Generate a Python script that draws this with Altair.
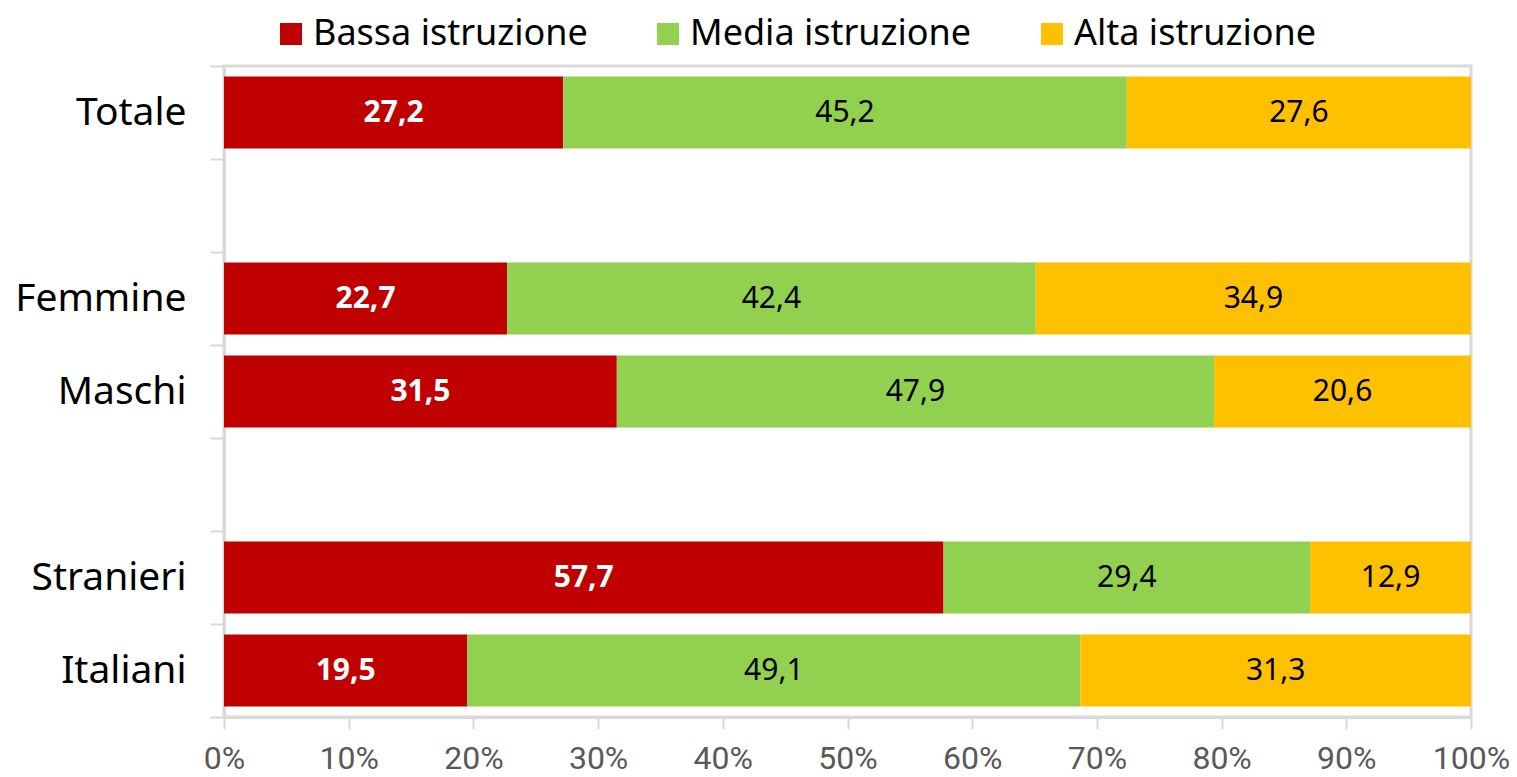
import altair as alt
import pandas as pd

categories = ["Totale", "Femmine", "Maschi", "Stranieri", "Italiani"]
levels = ["Bassa istruzione", "Media istruzione", "Alta istruzione"]
bassa = [27.2, 22.7, 31.5, 57.7, 19.5]
media = [45.2, 42.4, 47.9, 29.4, 49.1]
alta = [27.6, 34.9, 20.6, 12.9, 31.3]
colors = ["#C00000", "#92D050", "#FFC000"]
y_domain = ["Totale", " ", "Femmine", "Maschi", "  ", "Stranieri", "Italiani"]
x_ticks = [0, 0.1, 0.2, 0.3, 0.4, 0.5, 0.6, 0.7, 0.8, 0.9, 1.0]

rows = []
for i, cat in enumerate(categories):
    for j, (lvl, vals) in enumerate(zip(levels, [bassa, media, alta])):
        rows.append({"cat": cat, "level": lvl, "value": vals[i], "ord": j})
df = pd.DataFrame(rows)

GRAY = "#D9D9D9"
y_scale = alt.Scale(domain=y_domain, paddingInner=0, paddingOuter=0)
x_scale = alt.Scale(domain=[0, 1])
BAND = {"band": 0.775}

base = alt.Chart(df)

bars = base.mark_bar(height=BAND).encode(
    y=alt.Y("cat:N", scale=y_scale, title=None,
            axis=alt.Axis(labelFont="Noto Sans", labelFontSize=39, labelColor="#000000",
                          labelPadding=24, tickSize=14, tickColor=GRAY, tickWidth=2,
                          tickBand="extent", domainColor=GRAY, domainWidth=3)),
    x=alt.X("value:Q", stack="normalize", scale=x_scale, title=None,
            axis=alt.Axis(values=x_ticks, format=".0%", labelFont="Roboto", labelFontSize=32,
                          labelColor="#595959", labelPadding=14, tickSize=12, tickColor=GRAY,
                          tickWidth=2, grid=False, domainColor=GRAY, domainWidth=3,
                          labelFlush=False, labelOverlap=False)),
    color=alt.Color("level:N", scale=alt.Scale(domain=levels, range=colors),
                    legend=alt.Legend(orient="none", legendX=49, legendY=-50, direction="horizontal",
                                      columns=3, title=None, symbolType="square", symbolSize=484,
                                      symbolStrokeWidth=0, labelFont="Noto Sans", labelFontSize=36,
                                      labelColor="#000000", labelOffset=4, columnPadding=62,
                                      padding=0, labelLimit=500)),
    order=alt.Order("ord:Q"),
)

stacked = base.transform_stack(
    stack="value", as_=["x0", "x1"], groupby=["cat"], offset="normalize",
    sort=[alt.SortField("ord")]
).transform_calculate(
    mid="(datum.x0 + datum.x1) / 2",
    lab="replace(format(datum.value, '.1f'), '.', ',')",
)

text_low = stacked.transform_filter("datum.ord == 0").mark_text(
    font="Noto Sans", fontSize=30, fontWeight="bold", color="#FFFFFF"
).encode(x=alt.X("mid:Q", scale=x_scale), y=alt.Y("cat:N", scale=y_scale), text="lab:N")

text_other = stacked.transform_filter("datum.ord > 0").mark_text(
    font="Noto Sans", fontSize=30, color="#000000"
).encode(x=alt.X("mid:Q", scale=x_scale), y=alt.Y("cat:N", scale=y_scale), text="lab:N")

chart = alt.layer(bars, text_low, text_other).properties(
    width=1247, height=651,
    autosize=alt.AutoSizeParams(type="none"),
    padding={"left": 216, "top": 58, "right": 38, "bottom": 60},
).configure_view(stroke=GRAY, strokeWidth=3)

chart.save("out.html", embed_options={"renderer": "svg", "actions": False})
